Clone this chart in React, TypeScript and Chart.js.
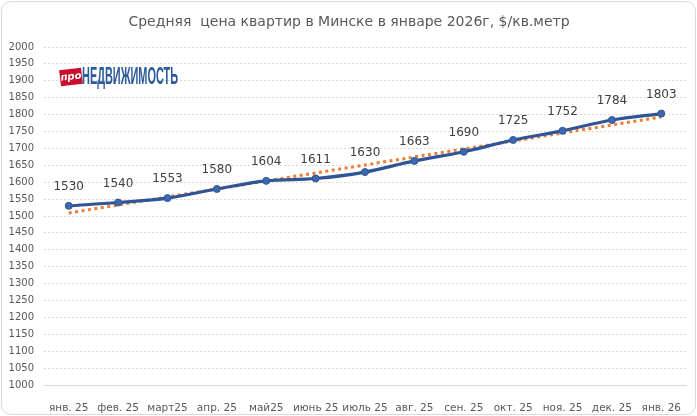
import React, { useEffect, useRef } from "react";
import { Chart, registerables } from "chart.js";

Chart.register(...registerables);

const categories = [
  "янв. 25", "фев. 25", "март25", "апр. 25", "май25", "июнь 25", "июль 25",
  "авг. 25", "сен. 25", "окт. 25", "ноя. 25", "дек. 25", "янв. 26",
];
const prices = [1530, 1540, 1553, 1580, 1604, 1611, 1630, 1663, 1690, 1725, 1752, 1784, 1803];
// linear trend at its two ends
const trend = [1509, null, null, null, null, null, null, null, null, null, null, null, 1793];
const yMin = 1000;
const yMax = 2000;
const yStep = 50;
const title = "Средняя  цена квартир в Минске в январе 2026г, $/кв.метр";

const FONT = "'DejaVu Sans', 'Noto Sans', sans-serif";

const decorPlugin = {
  id: "decor",
  afterDatasetsDraw(chart: any) {
    const ctx = chart.ctx as CanvasRenderingContext2D;
    const meta = chart.getDatasetMeta(0);
    ctx.save();
    ctx.fillStyle = "#404040";
    ctx.font = `12px ${FONT}`;
    ctx.textAlign = "center";
    ctx.textBaseline = "middle";
    meta.data.forEach((pt: any, i: number) => {
      ctx.fillText(String(prices[i]), pt.x, pt.y - 19);
    });
    ctx.restore();
  },
  afterDraw(chart: any) {
    const ctx = chart.ctx as CanvasRenderingContext2D;
    ctx.save();
    ctx.fillStyle = "#595959";
    ctx.font = `14px ${FONT}`;
    ctx.textAlign = "center";
    ctx.textBaseline = "middle";
    ctx.fillText(title, 349, 22);
    ctx.translate(71, 77);
    ctx.rotate(-0.12);
    ctx.fillStyle = "#c8102e";
    ctx.fillRect(-11, -8, 22, 16);
    ctx.fillStyle = "#ffffff";
    ctx.font = `italic bold 10px ${FONT}`;
    ctx.fillText("про", 0, 0);
    ctx.restore();
    ctx.save();
    ctx.fillStyle = "#2b5b9a";
    ctx.font = `bold 23px 'Liberation Sans Narrow', 'Liberation Sans', ${FONT}`;
    ctx.textBaseline = "alphabetic";
    ctx.textAlign = "left";
    const txt = "НЕДВИЖИМОСТЬ";
    const w = ctx.measureText(txt).width;
    ctx.translate(82, 84);
    ctx.scale(96 / w, 1);
    ctx.fillText(txt, 0, 0);
    ctx.restore();
  },
};

export default function App() {
  const ref = useRef<HTMLCanvasElement | null>(null);
  useEffect(() => {
    document.body.style.margin = "0";
    if (!ref.current) return;
    const chart = new Chart(ref.current, {
      type: "line",
      data: {
        labels: categories,
        datasets: [
          {
            data: prices,
            borderColor: "#2f5597",
            backgroundColor: "#2f5597",
            borderWidth: 3.2,
            pointRadius: 3.5,
            pointBackgroundColor: "#3d68b0",
            pointBorderColor: "#2f5597",
            pointBorderWidth: 1,
            tension: 0.35,
            order: 1,
          },
          {
            data: trend as any,
            spanGaps: true,
            borderColor: "#ed7d31",
            borderWidth: 3,
            borderDash: [3, 3.5],
            pointRadius: 0,
            order: 2,
          },
        ],
      },
      options: {
        animation: false,
        responsive: false,
        maintainAspectRatio: false,
        layout: { padding: { top: 47, left: 0, right: 11, bottom: 0 } },
        plugins: {
          legend: { display: false },
          title: { display: false },
          tooltip: { enabled: false },
        },
        scales: {
          x: {
            offset: true,
            grid: { display: false, offset: true },
            border: { display: true, color: "#d9d9d9", width: 1 },
            ticks: {
              color: "#595959",
              font: { size: 10.5, family: FONT },
              padding: 9,
              maxRotation: 0,
              autoSkip: false,
            },
            afterFit: (axis: any) => {
              axis.height = 31;
            },
          },
          y: {
            min: yMin,
            max: yMax,
            grid: { color: "#d9d9d9", drawTicks: false },
            border: { display: false, dash: [2, 2] },
            ticks: {
              stepSize: yStep,
              color: "#595959",
              font: { size: 10, family: FONT },
              padding: 10,
              callback: (v: any) => String(v),
            },
            afterFit: (axis: any) => {
              axis.width = 44;
            },
          },
        },
      },
      plugins: [decorPlugin],
    });
    return () => chart.destroy();
  }, []);
  return (
    <div style={{ position: "relative", width: 697, height: 416, background: "#fff" }}>
      <div
        style={{
          position: "absolute",
          left: 1,
          top: 1,
          width: 693,
          height: 412,
          border: "1px solid #d9d9d9",
          borderRadius: 10,
        }}
      />
      <canvas ref={ref} width={697} height={416} style={{ position: "absolute", left: 0, top: 0 }} />
    </div>
  );
}
